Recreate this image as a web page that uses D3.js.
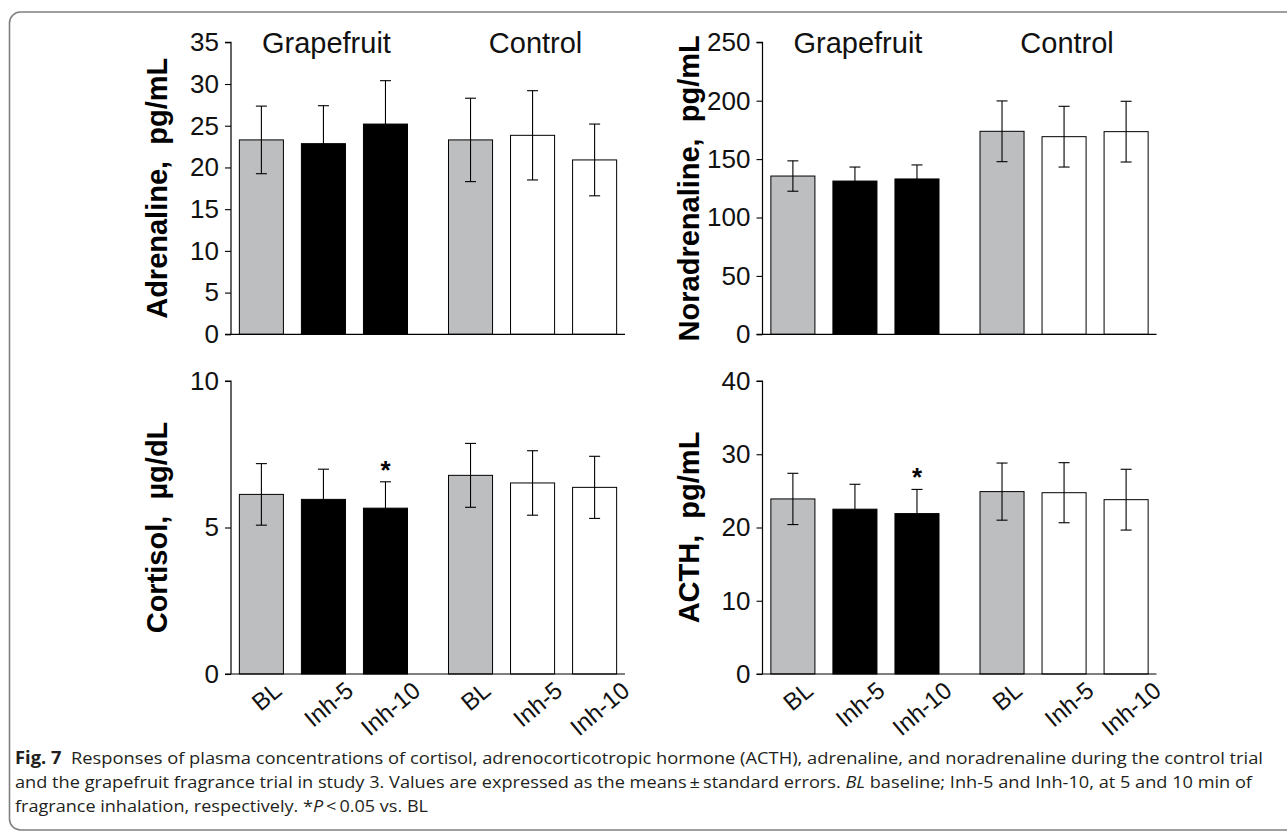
<!DOCTYPE html>
<html>
<head>
<meta charset="utf-8">
<script src="https://cdn.jsdelivr.net/npm/d3@7"></script>
<style>
  html, body { margin: 0; padding: 0; background: #fff; }
  svg { display: block; }
</style>
</head>
<body>
<svg id="chart" width="1287" height="832"></svg>
<script>
// --- data ---
const groups = ["Grapefruit", "Control"];
const categories = ["BL", "Inh-5", "Inh-10"];

const adrenalineMean = [23.3, 22.85, 25.2, 23.3, 23.85, 20.9];
const adrenalineSE = [4.05, 4.55, 5.2, 5.0, 5.35, 4.3];

const noradrenalineMean = [135.5, 131.2, 133, 173.8, 169.2, 173.5];
const noradrenalineSE = [13, 12, 12, 26, 26, 26];

const cortisolMean = [6.13, 5.96, 5.66, 6.78, 6.52, 6.37];
const cortisolSE = [1.05, 1.03, 0.9, 1.09, 1.1, 1.06];

const acthMean = [23.9, 22.5, 21.9, 24.9, 24.75, 23.8];
const acthSE = [3.5, 3.4, 3.3, 3.9, 4.1, 4.15];

// bars marked * (P < 0.05 vs BL): [group, category]
const cortisolStars = [["Grapefruit", "Inh-10"]];
const acthStars = [["Grapefruit", "Inh-10"]];

const adrenalineTicks = [0, 5, 10, 15, 20, 25, 30, 35];
const noradrenalineTicks = [0, 50, 100, 150, 200, 250];
const cortisolTicks = [0, 5, 10];
const acthTicks = [0, 10, 20, 30, 40];

// -------------------------
// helpers
// -------------------------
const svg = d3.select("#chart");
const FONT = "'Liberation Sans', Arial, Helvetica, sans-serif";
const GRAY = "#bdbec0";

function toRows(mean, se) {
	const rows = [];
	groups.forEach((g, gi) => {
		categories.forEach((c, ci) => {
			const i = gi * categories.length + ci;
			rows.push({ group: g, cat: c, mean: mean[i], se: se[i] });
		});
	});
	return rows;
}

function barFill(d) {
	if (d.cat === "BL") return GRAY;
	return d.group === "Grapefruit" ? "#000" : "#fff";
}

// panel layout (positions only)
const panels = [
	{ title: "Adrenaline,  pg/mL", mean: adrenalineMean, se: adrenalineSE, max: 35, ticks: adrenalineTicks, x0: 231, top: 42.3, bottom: 334.3, groupLabels: true, stars: [], xLabels: false },
	{ title: "Noradrenaline,  pg/mL", mean: noradrenalineMean, se: noradrenalineSE, max: 250, ticks: noradrenalineTicks, x0: 762.5, top: 42.3, bottom: 334.3, groupLabels: true, stars: [], xLabels: false },
	{ title: "Cortisol,  \u00b5g/dL", mean: cortisolMean, se: cortisolSE, max: 10, ticks: cortisolTicks, x0: 231, top: 381, bottom: 674, groupLabels: false, stars: cortisolStars, xLabels: true },
	{ title: "ACTH,  pg/mL", mean: acthMean, se: acthSE, max: 40, ticks: acthTicks, x0: 762.5, top: 381, bottom: 674, groupLabels: false, stars: acthStars, xLabels: true }
];

const PANEL_W = 394;

function drawPanel(p) {
	const rows = toRows(p.mean, p.se);
	const g = svg.append("g");

	const y = d3.scaleLinear().domain([0, p.max]).range([p.bottom, p.top]);
	const xGroup = d3.scaleBand()
		.domain(groups)
		.range([p.x0, p.x0 + PANEL_W])
		.paddingInner(0.196)
		.paddingOuter(0.04);
	const xCat = d3.scaleBand()
		.domain(categories)
		.range([0, xGroup.bandwidth()])
		.paddingInner(0.29)
		.paddingOuter(0);
	const cx = (d) => xGroup(d.group) + xCat(d.cat) + xCat.bandwidth() / 2;

	// bars
	g.append("g")
		.selectAll("rect")
		.data(rows)
		.join("rect")
		.attr("x", (d) => xGroup(d.group) + xCat(d.cat))
		.attr("y", (d) => y(d.mean))
		.attr("width", xCat.bandwidth())
		.attr("height", (d) => y(0) - y(d.mean))
		.attr("fill", barFill)
		.attr("stroke", "#000")
		.attr("stroke-width", 1);

	// error bars
	const err = g.append("g").attr("stroke", "#000").attr("stroke-width", 1.1);
	err.selectAll("line.v")
		.data(rows)
		.join("line")
		.attr("class", "v")
		.attr("x1", cx).attr("x2", cx)
		.attr("y1", (d) => y(d.mean - d.se))
		.attr("y2", (d) => y(d.mean + d.se));
	["+", "-"].forEach((s) => {
		err.selectAll("line.c" + (s === "+" ? "t" : "b"))
			.data(rows)
			.join("line")
			.attr("class", "c" + (s === "+" ? "t" : "b"))
			.attr("x1", (d) => cx(d) - 5.5)
			.attr("x2", (d) => cx(d) + 5.5)
			.attr("y1", (d) => y(s === "+" ? d.mean + d.se : d.mean - d.se))
			.attr("y2", (d) => y(s === "+" ? d.mean + d.se : d.mean - d.se));
	});

	// y axis
	const yAxis = d3.axisLeft(y).tickValues(p.ticks).tickSize(6).tickPadding(6).tickFormat(d3.format("d"));
	const ax = g.append("g")
		.attr("transform", `translate(${p.x0},0)`)
		.call(yAxis);
	ax.select(".domain").attr("stroke", "#000").attr("stroke-width", 1.2).attr("d", `M-6,${p.top}H0V${p.bottom}`);
	ax.selectAll(".tick line").attr("stroke", "#000").attr("stroke-width", 1.1);
	ax.selectAll(".tick text")
		.attr("font-family", FONT)
		.attr("font-size", 26)
		.attr("fill", "#111");

	// x axis baseline
	g.append("line")
		.attr("x1", p.x0 - 6)
		.attr("x2", p.x0 + PANEL_W)
		.attr("y1", y(0))
		.attr("y2", y(0))
		.attr("stroke", "#000")
		.attr("stroke-width", 1.2);

	// y title
	g.append("text")
		.attr("transform", `translate(${p.x0 - 64},${(p.top + p.bottom) / 2}) rotate(-90)`)
		.attr("text-anchor", "middle")
		.attr("font-family", FONT)
		.attr("font-weight", "bold")
		.attr("font-size", 29)
		.attr("fill", "#000")
		.style("white-space", "pre")
		.text(p.title);

	// group labels
	if (p.groupLabels) {
		g.selectAll("text.grp")
			.data(groups)
			.join("text")
			.attr("class", "grp")
			.attr("x", (d) => xGroup(d) + xGroup.bandwidth() / 2 + 3)
			.attr("y", p.top + 11)
			.attr("text-anchor", "middle")
			.attr("font-family", FONT)
			.attr("font-size", 29)
			.attr("fill", "#111")
			.text((d) => d);
	}

	// significance stars
	const starRows = rows.filter((d) => p.stars.some((s) => s[0] === d.group && s[1] === d.cat));
	g.selectAll("text.star")
		.data(starRows)
		.join("text")
		.attr("class", "star")
		.attr("x", cx)
		.attr("y", (d) => y(d.mean + d.se) - 3)
		.attr("text-anchor", "middle")
		.attr("font-family", FONT)
		.attr("font-weight", "bold")
		.attr("font-size", 26)
		.text("*");

	// rotated category labels
	if (p.xLabels) {
		const FS = 24;
		const ang = 40 * Math.PI / 180;
		const labelTop = p.bottom + 6;
		g.selectAll("text.xl")
			.data(rows)
			.join("text")
			.attr("class", "xl")
			.attr("text-anchor", "middle")
			.attr("dominant-baseline", "central")
			.attr("font-family", FONT)
			.attr("font-size", FS)
			.attr("fill", "#111")
			.text((d) => d.cat)
			.attr("transform", function (d) {
				const L = this.getComputedTextLength();
				const half = (L / 2) * Math.sin(ang) + (0.36 * FS) * Math.cos(ang);
				return `translate(${cx(d) + 5},${labelTop + half}) rotate(-40)`;
			});
	}
}

panels.forEach(drawPanel);

// -------------------------
// frame and caption
// -------------------------
svg.append("rect")
	.attr("x", 9.5)
	.attr("y", 12)
	.attr("width", 1320)
	.attr("height", 818)
	.attr("rx", 11)
	.attr("fill", "none")
	.attr("stroke", "#808080")
	.attr("stroke-width", 1.6);

const CAP_FONT = "'Open Sans', 'Noto Sans', sans-serif";
const capLines = [
	{ y: 764, end: 1263, parts: [["Fig. 7", "bold"], ["  Responses of plasma concentrations of cortisol, adrenocorticotropic hormone (ACTH), adrenaline, and noradrenaline during the control trial", ""]] },
	{ y: 788, end: 1252, parts: [["and the grapefruit fragrance trial in study 3. Values are expressed as the means\u2009\u00b1\u2009standard errors. ", ""], ["BL", "italic"], [" baseline; Inh-5 and Inh-10, at 5 and 10 min of", ""]] },
	{ y: 812, end: 428, parts: [["fragrance inhalation, respectively. *", ""], ["P", "italic"], ["\u2009<\u20090.05 vs. BL", ""]] }
];

capLines.forEach((ln) => {
	const t = svg.append("text")
		.attr("x", 15)
		.attr("y", ln.y)
		.attr("font-family", CAP_FONT)
		.attr("font-size", 17)
		.attr("fill", "#231f20")
		.style("white-space", "pre")
		.attr("textLength", ln.end - 15)
		.attr("lengthAdjust", "spacingAndGlyphs");
	ln.parts.forEach(([s, st]) => {
		const ts = t.append("tspan").text(s);
		if (st === "bold") ts.attr("font-weight", "bold");
		if (st === "italic") ts.attr("font-style", "italic");
	});
});
</script>
</body>
</html>
